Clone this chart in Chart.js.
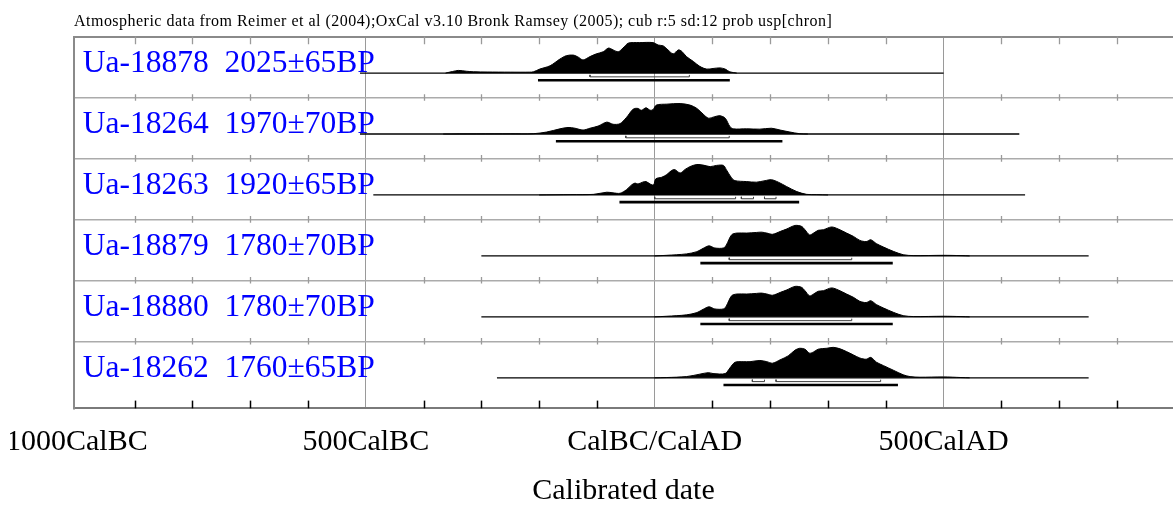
<!DOCTYPE html>
<html>
<head>
<meta charset="utf-8">
<script src="https://cdn.jsdelivr.net/npm/chart.js@4.4.1/dist/chart.umd.min.js"></script>
<style>
  html, body { margin: 0; padding: 0; background: #fff; }
  #wrap { width: 1173px; height: 505px; }
</style>
</head>
<body>
<div id="wrap"><canvas id="c" width="1173" height="505"></canvas></div>
<script>
// ---------------- data ----------------
const headerText = 'Atmospheric data from Reimer et al (2004);OxCal v3.10 Bronk Ramsey (2005); cub r:5 sd:12 prob usp[chron]';
const axisTitle = 'Calibrated date';
const tickValues = [-1000, -500, 0, 500];
const tickLabels = ['1000CalBC', '500CalBC', 'CalBC/CalAD', '500CalAD'];
const axisTickYears = [-1000, -900, -800, -700, -600, -500, -400, -300, -200, -100, 0, 100, 200, 300, 400, 500, 600, 700, 800];

const rowLabels = [
  'Ua-18878  2025\u00b165BP',
  'Ua-18264  1970\u00b170BP',
  'Ua-18263  1920\u00b165BP',
  'Ua-18879  1780\u00b170BP',
  'Ua-18880  1780\u00b170BP',
  'Ua-18262  1760\u00b165BP'
];

// calibrated probability distributions (year, relative probability)
const ua18878Years = [-362,-350,-340,-326,-314,-290,-250,-216,-210,-199,-181,-164,-153,-141,-132,-124,-112,-101,-89,-80,-72,-63,-55,-46,-37,-26,-3,6,15,23,32,41,47,55,67,78,90,101,113,122,130,142];
const ua18878Prob  = [0,0.05,0.087,0.06,0.043,0.035,0.03,0.03,0.04,0.13,0.24,0.46,0.57,0.59,0.52,0.43,0.54,0.63,0.70,0.82,0.76,0.70,0.82,0.98,1.0,1.0,1.0,0.92,0.89,0.76,0.63,0.76,0.71,0.54,0.38,0.22,0.13,0.15,0.17,0.13,0.04,0];

const ua18264Years = [-366,-250,-210,-187,-164,-150,-138,-124,-112,-98,-83,-72,-60,-49,-37,-29,-23,-15,-8,-3,3,21,44,61,73,84,93,104,113,122,130,136,159,182,202,217,234,251,265];
const ua18264Prob  = [0,0.005,0.01,0.065,0.17,0.215,0.19,0.13,0.19,0.26,0.39,0.32,0.34,0.54,0.82,0.84,0.78,0.86,0.78,0.80,0.95,0.98,1.0,0.95,0.84,0.65,0.52,0.57,0.60,0.52,0.25,0.17,0.17,0.16,0.19,0.13,0.065,0.01,0];

const ua18263Years = [-200,-145,-106,-83,-72,-60,-49,-40,-34,-29,-21,-15,-8,-2,2,12,21,29,35,44,52,61,73,84,96,107,119,124,133,139,159,176,191,202,214,228,246,263,280,300];
const ua18263Prob  = [0,0.01,0.02,0.09,0.07,0.055,0.17,0.33,0.39,0.36,0.42,0.44,0.36,0.33,0.53,0.58,0.67,0.80,0.83,0.72,0.83,0.93,1.0,0.98,0.93,0.97,0.97,0.83,0.56,0.47,0.44,0.42,0.47,0.50,0.42,0.28,0.11,0.02,0.01,0];

const ua18879Years = [0,21,55,73,84,94,104,119,124,133,142,159,176,185,194,204,217,228,243,254,260,268,275,283,292,306,318,332,344,355,366,374,384,396,413,430,448,500,530,545];
const ua18879Prob  = [0,0.02,0.066,0.14,0.25,0.33,0.26,0.26,0.36,0.69,0.75,0.75,0.77,0.78,0.75,0.71,0.80,0.88,1.0,0.97,0.86,0.69,0.75,0.84,0.86,0.95,0.88,0.75,0.64,0.51,0.47,0.53,0.40,0.29,0.15,0.04,0.01,0.02,0.01,0];

const ua18880Years = [0,21,55,73,84,94,104,119,124,133,142,159,176,185,194,204,217,228,243,254,260,268,275,283,292,306,318,332,344,355,366,374,384,396,413,430,448,500,530,545];
const ua18880Prob  = [0,0.02,0.066,0.14,0.25,0.33,0.26,0.26,0.36,0.69,0.75,0.75,0.77,0.78,0.75,0.71,0.80,0.88,1.0,0.97,0.86,0.69,0.75,0.84,0.86,0.95,0.88,0.75,0.64,0.51,0.47,0.53,0.40,0.29,0.15,0.04,0.01,0.02,0.01,0];

const ua18262Years = [0,21,55,78,93,101,122,130,139,153,165,182,194,204,217,231,243,251,260,268,275,283,298,309,321,332,344,355,366,374,384,396,413,430,442,459,500,530,545];
const ua18262Prob  = [0,0.01,0.04,0.12,0.17,0.14,0.14,0.32,0.51,0.53,0.53,0.57,0.53,0.48,0.59,0.72,0.91,0.97,0.94,0.81,0.85,0.94,0.97,1.0,0.95,0.86,0.75,0.65,0.61,0.67,0.51,0.40,0.25,0.10,0.04,0.02,0.03,0.01,0];

// extent of each plotted curve (years)
const curveStart = [-510, -510, -487, -300, -300, -273];
const curveEnd   = [500, 631, 641, 751, 751, 751];

// 68.2% ranges and 95.4% ranges (years)
const range68 = [
  [[-112, 60]],
  [[-50, 129]],
  [[0, 140], [150, 171], [190, 210]],
  [[129, 341]],
  [[129, 341]],
  [[169, 190], [210, 391]]
];
const range95 = [
  [[-202, 130]],
  [[-171, 221]],
  [[-61, 250]],
  [[79, 412]],
  [[79, 412]],
  [[119, 421]]
];

const distYears = [ua18878Years, ua18264Years, ua18263Years, ua18879Years, ua18880Years, ua18262Years];
const distProb  = [ua18878Prob, ua18264Prob, ua18263Prob, ua18879Prob, ua18880Prob, ua18262Prob];

// ---------------- build ----------------
const SERIF = "'Liberation Serif', 'Times New Roman', serif";
const PEAK = 0.5;        // row units of the tallest point
const BASE_OFF = 0.6;    // baseline position inside a row
const datasets = [];

rowLabels.forEach((lab, i) => {
  const base = i + BASE_OFF;
  datasets.push({
    label: lab,
    data: distYears[i].map((yr, k) => ({ x: yr, y: base - distProb[i][k] * PEAK })),
    fill: { value: base },
    backgroundColor: '#000',
    borderColor: '#000',
    borderWidth: 1,
    tension: 0.3,
    pointRadius: 0
  });
  datasets.push({
    label: lab + ' line',
    data: [{ x: curveStart[i], y: base }, { x: curveEnd[i], y: base }],
    borderColor: '#000', borderWidth: 1.3, fill: false, pointRadius: 0, tension: 0
  });
  const br = [];
  range68[i].forEach(r => {
    br.push({ x: r[0], y: base + 0.03 }, { x: r[0], y: base + 0.062 },
            { x: r[1], y: base + 0.062 }, { x: r[1], y: base + 0.03 }, { x: r[1], y: null });
  });
  datasets.push({
    label: lab + ' 68.2%',
    data: br, borderColor: '#404040', borderWidth: 1, fill: false,
    pointRadius: 0, tension: 0, spanGaps: false
  });
  const bb = [];
  range95[i].forEach(r => {
    bb.push({ x: r[0], y: base + 0.118 }, { x: r[1], y: base + 0.118 }, { x: r[1], y: null });
  });
  datasets.push({
    label: lab + ' 95.4%',
    data: bb, borderColor: '#000', borderWidth: 2.6, fill: false,
    pointRadius: 0, tension: 0, spanGaps: false
  });
});

const decor = {
  id: 'decor',
  beforeDraw(chart) {
    const c = chart.ctx;
    c.save();
    c.fillStyle = '#fff';
    c.fillRect(0, 0, chart.width, chart.height);
    // the original picture is cut off just left of the first axis label
    c.beginPath();
    c.rect(10, 0, chart.width - 10, chart.height);
    c.clip();
  },
  beforeDatasetsDraw(chart) {
    const c = chart.ctx, xs = chart.scales.x, ys = chart.scales.y, a = chart.chartArea;
    c.save();
    axisTickYears.forEach(v => {
      if (v % 500 === 0) return;
      const x = Math.round(xs.getPixelForValue(v)) + 0.5;
      c.strokeStyle = '#9a9a9a';
      c.lineWidth = 1.3;
      c.beginPath();
      c.moveTo(x, a.top); c.lineTo(x, a.top + 7.7);
      for (let r = 1; r <= 5; r++) {
        const y = ys.getPixelForValue(r);
        c.moveTo(x, y - 3.3); c.lineTo(x, y + 3.3);
      }
      c.stroke();
      c.strokeStyle = '#000';
      c.lineWidth = 1.5;
      c.beginPath();
      c.moveTo(x, a.bottom - 7.7); c.lineTo(x, a.bottom);
      c.stroke();
    });
    c.restore();
  },
  afterDatasetsDraw(chart) {
    const c = chart.ctx, ys = chart.scales.y, a = chart.chartArea;
    c.save();
    c.font = '31.5px ' + SERIF;
    c.fillStyle = '#0000ff';
    c.textBaseline = 'alphabetic';
    c.textAlign = 'left';
    rowLabels.forEach((lab, i) => {
      c.fillText(lab, a.left + 8.7, ys.getPixelForValue(i + BASE_OFF) - 0.8);
    });
    // header line
    c.font = '16px ' + SERIF;
    c.fillStyle = '#000';
    const target = 758;
    const w = c.measureText(headerText).width;
    if ('letterSpacing' in c) {
      c.letterSpacing = ((target - w) / (headerText.length - 1)).toFixed(2) + 'px';
    }
    c.fillText(headerText, a.left, 26);
    c.restore();
  },
  afterDraw(chart) {
    chart.ctx.restore();
  }
};

new Chart(document.getElementById('c'), {
  type: 'line',
  data: { datasets },
  options: {
    responsive: false,
    animation: false,
    devicePixelRatio: 1,
    layout: { autoPadding: false, padding: { left: 74, right: 0, top: 36.5, bottom: 0 } },
    plugins: { legend: { display: false }, tooltip: { enabled: false }, title: { display: false } },
    elements: { point: { radius: 0 } },
    scales: {
      x: {
        type: 'linear', position: 'bottom', bounds: 'data',
        min: -1005, max: 897,
        afterBuildTicks: scale => { scale.ticks = axisTickYears.map(v => ({ value: v })); },
        afterFit: scale => { scale.paddingLeft = 0; scale.paddingRight = 0; },
        ticks: {
          autoSkip: false, maxRotation: 0, minRotation: 0,
          padding: 19, color: '#000',
          font: { family: SERIF, size: 30, lineHeight: 1 },
          callback: v => { const k = tickValues.indexOf(v); return k >= 0 ? tickLabels[k] : ''; }
        },
        grid: {
          drawTicks: false, lineWidth: 1,
          color: ctx => (ctx.tick && ctx.tick.value % 500 === 0 && ctx.tick.value !== -1000) ? '#9a9a9a' : 'rgba(0,0,0,0)'
        },
        border: { display: true, color: '#7a7a7a', width: 2 },
        title: {
          display: true, text: axisTitle, color: '#000',
          font: { family: SERIF, size: 30, lineHeight: 1 },
          padding: { top: -0.3, bottom: -1 }
        }
      },
      y: {
        type: 'linear', reverse: true, min: 0, max: 6.1, bounds: 'data',
        ticks: { display: false, stepSize: 1, includeBounds: false },
        grid: {
          drawTicks: false,
          lineWidth: ctx => (ctx.tick && ctx.tick.value === 0) ? 2 : 1.5,
          color: ctx => {
            if (!ctx.tick) return 'rgba(0,0,0,0)';
            if (ctx.tick.value === 0) return '#8a8a8a';
            if (ctx.tick.value >= 6) return 'rgba(0,0,0,0)';
            return '#ababab';
          }
        },
        border: { display: true, color: '#8a8a8a', width: 2 }
      }
    }
  },
  plugins: [decor]
});
</script>
</body>
</html>
